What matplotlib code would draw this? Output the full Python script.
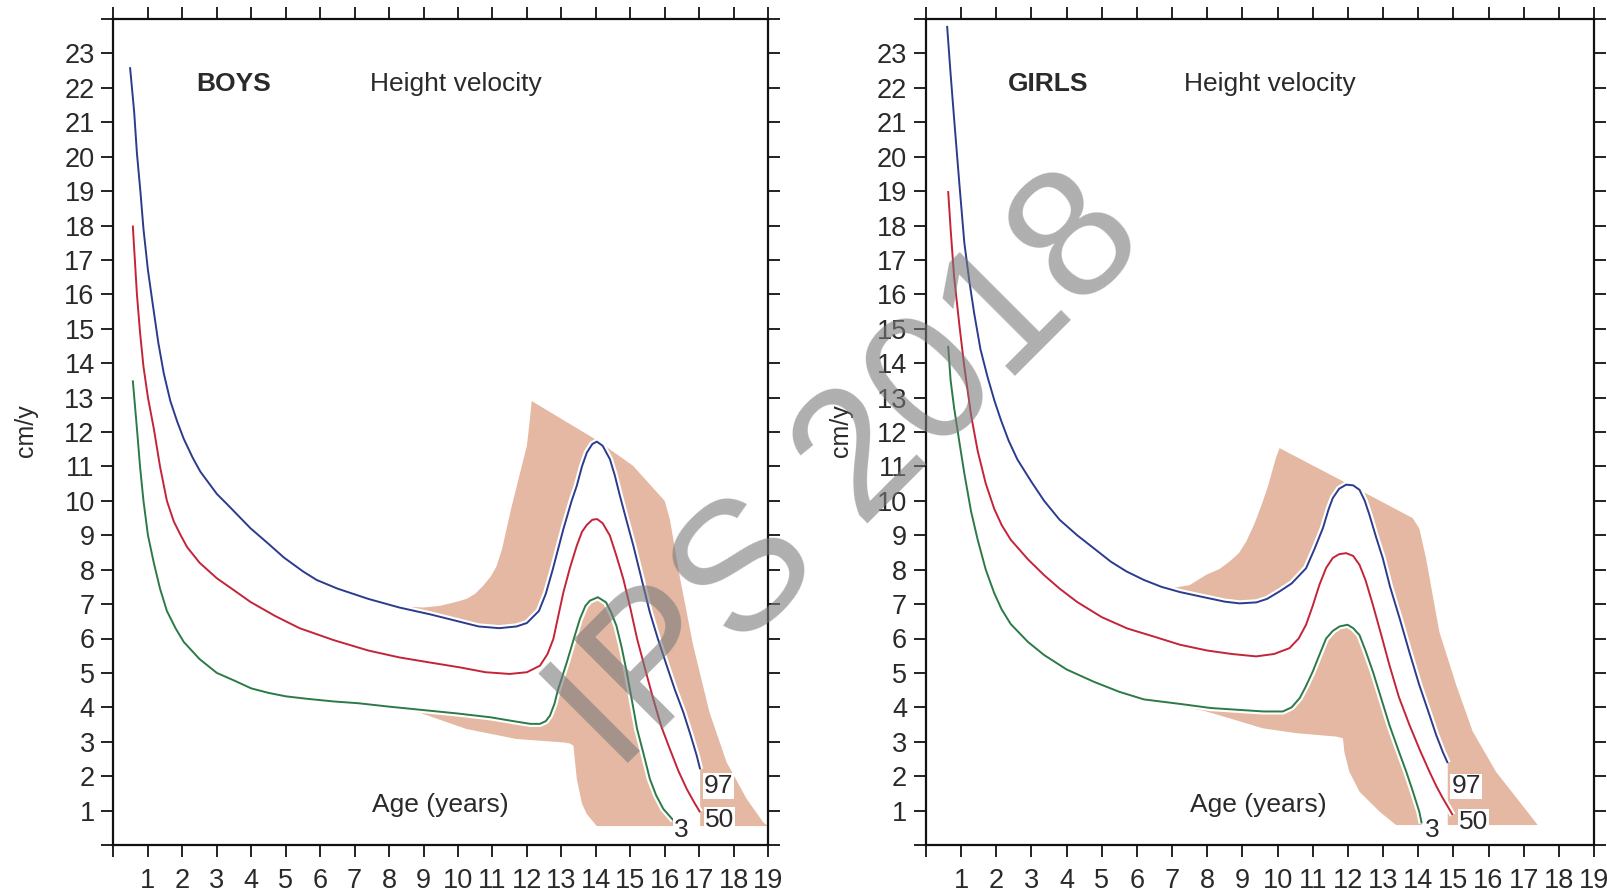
import numpy as np
import matplotlib
matplotlib.use('Agg')
import matplotlib.pyplot as plt
import matplotlib.patheffects as pe

plt.rcParams['font.family'] = ['Liberation Sans', 'DejaVu Sans']

# ---- boys: 97th / 50th / 3rd centile height velocity (cm/y) ----
boys_p97_x = [0.48, 0.6, 0.68, 0.78, 0.87, 1.0, 1.17, 1.3, 1.46, 1.65, 1.85, 2.04, 2.3, 2.52, 3.0, 3.3,
              3.98, 4.5, 4.95, 5.5, 5.9, 6.5, 7.4, 8.3, 9.2, 10.0, 10.6, 11.2, 11.7, 12.0, 12.35, 12.55,
              12.75, 13.06, 13.3, 13.45, 13.6, 13.74, 13.9, 14.03, 14.2, 14.41, 14.55, 14.7, 14.9, 15.09,
              15.3, 15.57, 15.8, 16.06, 16.3, 16.54, 16.75, 16.93, 17.03]
boys_p97_y = [22.6, 21.3, 20.1, 19.0, 17.9, 16.7, 15.5, 14.6, 13.7, 12.9, 12.3, 11.8, 11.25, 10.85, 10.2, 9.9,
              9.2, 8.75, 8.35, 7.95, 7.7, 7.45, 7.15, 6.9, 6.7, 6.5, 6.35, 6.3, 6.35, 6.45, 6.8, 7.3,
              8.0, 9.18, 10.0, 10.44, 11.0, 11.4, 11.65, 11.72, 11.6, 11.21, 10.75, 10.15, 9.4, 8.7,
              7.85, 6.76, 6.0, 5.21, 4.5, 3.86, 3.2, 2.6, 2.2]

boys_p50_x = [0.56, 0.62, 0.68, 0.77, 0.87, 1.0, 1.17, 1.35, 1.55, 1.75, 1.95, 2.14, 2.5, 3.0, 3.5, 3.98,
              4.7, 5.4, 6.4, 7.4, 8.3, 9.2, 10.06, 10.8, 11.5, 12.0, 12.38, 12.6, 12.77, 12.9, 13.06,
              13.25, 13.45, 13.6, 13.74, 13.9, 14.04, 14.2, 14.41, 14.6, 14.8, 15.0, 15.2, 15.45, 15.67,
              15.9, 16.15, 16.4, 16.64, 16.85, 17.03]
boys_p50_y = [18.0, 17.0, 16.0, 14.9, 13.9, 13.0, 12.1, 11.0, 10.0, 9.4, 9.0, 8.65, 8.2, 7.75, 7.4, 7.06,
              6.65, 6.3, 5.95, 5.65, 5.45, 5.3, 5.16, 5.02, 4.97, 5.02, 5.21, 5.55, 5.99, 6.6, 7.34,
              8.05, 8.7, 9.1, 9.3, 9.45, 9.47, 9.35, 8.99, 8.4, 7.73, 6.9, 5.99, 5.05, 4.24,
              3.45, 2.79, 2.15, 1.63, 1.25, 0.95]

boys_p3_x = [0.56, 0.62, 0.68, 0.77, 0.87, 1.0, 1.17, 1.35, 1.55, 1.8, 2.04, 2.5, 3.0, 3.5, 4.0, 4.5,
             5.0, 5.6, 6.4, 7.1, 8.0, 9.0, 10.0, 10.95, 11.6, 12.1, 12.38, 12.55, 12.67, 12.8, 12.9,
             13.16, 13.35, 13.54, 13.7, 13.83, 14.06, 14.3, 14.45, 14.6, 14.75, 14.9, 15.05, 15.2,
             15.4, 15.57, 15.75, 15.96, 16.25]
boys_p3_y = [13.5, 12.8, 12.1, 11.0, 10.0, 9.0, 8.2, 7.45, 6.8, 6.3, 5.9, 5.4, 5.0, 4.78, 4.55, 4.42,
             4.32, 4.25, 4.17, 4.12, 4.02, 3.92, 3.82, 3.71, 3.6, 3.52, 3.52, 3.6, 3.76, 4.1, 4.5,
             5.31, 5.95, 6.57, 6.95, 7.1, 7.2, 7.05, 6.75, 6.37, 5.75, 5.02, 4.2, 3.37,
             2.6, 1.92, 1.45, 1.05, 0.72]

# shaded band (early / late maturers)
boys_band_top_x = [8.6, 9.0, 9.48, 9.9, 10.25, 10.5, 10.73, 10.95, 11.12, 11.28, 11.41, 11.55, 11.7,
                   11.85, 12.0, 12.08, 12.14, 14.05, 15.08, 16.0, 16.15, 16.45, 16.83, 17.3, 17.8,
                   18.38, 18.86, 19.0]
boys_band_top_y = [6.92, 6.9, 6.95, 7.05, 7.15, 7.3, 7.53, 7.8, 8.1, 8.6, 9.18, 9.8, 10.4,
                   11.0, 11.6, 12.3, 12.9, 11.75, 11.02, 10.0, 9.47, 7.73, 5.79, 3.86, 2.4,
                   1.34, 0.66, 0.55]
boys_band_bot_x = [19.0, 14.03, 13.74, 13.6, 13.45, 13.35, 13.25, 13.06, 11.7, 10.25, 9.3, 8.6, 8.0]
boys_band_bot_y = [0.55, 0.55, 0.9, 1.2, 1.92, 2.89, 2.95, 2.98, 3.08, 3.37, 3.7, 3.95, 4.02]

# ---- girls ----
girls_p97_x = [0.6, 0.7, 0.8, 0.95, 1.09, 1.23, 1.37, 1.55, 1.75, 1.95, 2.13, 2.35, 2.6, 3.0, 3.36, 3.8,
               4.3, 4.8, 5.26, 5.7, 6.2, 6.7, 7.22, 7.9, 8.5, 8.92, 9.4, 9.7, 10.06, 10.4, 10.81, 11.05,
               11.29, 11.45, 11.57, 11.75, 11.95, 12.15, 12.33, 12.48, 12.61, 12.8, 12.99, 13.2, 13.47,
               13.75, 14.03, 14.28, 14.51, 14.7, 14.84]
girls_p97_y = [23.8, 22.4, 21.1, 19.2, 17.5, 16.4, 15.45, 14.4, 13.6, 12.9, 12.35, 11.75, 11.2, 10.55, 10.0, 9.45,
               9.0, 8.6, 8.23, 7.95, 7.7, 7.5, 7.35, 7.2, 7.07, 7.02, 7.05, 7.15, 7.37, 7.6, 8.04, 8.6,
               9.21, 9.75, 10.08, 10.35, 10.47, 10.45, 10.32, 10.0, 9.6, 8.95, 8.34, 7.5, 6.59,
               5.6, 4.65, 3.9, 3.2, 2.7, 2.38]

girls_p50_x = [0.63, 0.7, 0.8, 0.95, 1.09, 1.28, 1.47, 1.7, 1.94, 2.15, 2.41, 2.9, 3.36, 3.8, 4.3, 5.0,
               5.73, 6.5, 7.22, 8.0, 8.7, 9.39, 9.9, 10.34, 10.6, 10.81, 11.0, 11.19, 11.38, 11.57, 11.75,
               11.95, 12.15, 12.33, 12.5, 12.71, 12.95, 13.18, 13.45, 13.75, 14.05, 14.32, 14.52, 14.7,
               14.85, 14.98]
girls_p50_y = [19.0, 17.9, 16.5, 15.1, 13.9, 12.5, 11.45, 10.5, 9.77, 9.3, 8.87, 8.3, 7.84, 7.45, 7.06, 6.62,
               6.29, 6.05, 5.82, 5.65, 5.55, 5.48, 5.55, 5.72, 6.0, 6.4, 6.95, 7.56, 8.05, 8.34, 8.45,
               8.48, 8.4, 8.14, 7.7, 6.98, 6.1, 5.23, 4.3, 3.49, 2.75, 2.13, 1.7, 1.36,
               1.1, 0.87]

girls_p3_x = [0.63, 0.7, 0.8, 0.95, 1.09, 1.28, 1.47, 1.7, 1.94, 2.15, 2.41, 2.9, 3.36, 4.0, 4.78, 5.5,
              6.2, 7.22, 8.1, 9.0, 9.6, 10.15, 10.4, 10.63, 10.8, 11.0, 11.2, 11.38, 11.57, 11.76, 11.99,
              12.15, 12.33, 12.5, 12.71, 12.95, 13.18, 13.42, 13.66, 13.85, 14.03, 14.1]
girls_p3_y = [14.5, 13.5, 12.7, 11.7, 10.8, 9.7, 8.87, 8.0, 7.32, 6.85, 6.42, 5.9, 5.52, 5.1, 4.74, 4.45,
              4.23, 4.1, 3.98, 3.92, 3.88, 3.88, 4.0, 4.27, 4.6, 5.04, 5.55, 6.0, 6.22, 6.35, 6.4,
              6.3, 6.1, 5.65, 5.04, 4.25, 3.49, 2.8, 2.13, 1.55, 0.97, 0.63]

girls_band_top_x = [6.9, 7.5, 7.97, 8.35, 8.64, 8.9, 9.11, 9.35, 9.58, 9.75, 9.87, 9.97, 10.06, 11.95,
                    13.84, 14.03, 14.22, 14.6, 15.08, 15.55, 16.21, 16.88, 17.4]
girls_band_top_y = [7.45, 7.55, 7.85, 8.02, 8.24, 8.48, 8.82, 9.35, 9.98, 10.5, 10.95, 11.3, 11.53, 10.52,
                    9.5, 9.2, 8.34, 6.2, 4.65, 3.3, 2.13, 1.26, 0.58]
girls_band_bot_x = [17.4, 13.37, 12.9, 12.33, 12.04, 11.9, 11.86, 11.67, 10.53, 9.58, 8.64, 7.9, 7.3, 6.8]
girls_band_bot_y = [0.58, 0.58, 0.97, 1.55, 2.13, 2.7, 3.1, 3.15, 3.25, 3.39, 3.68, 3.9, 4.02, 4.12]

x_ticks = list(range(0, 20))
y_ticks = list(range(0, 25))

W, H = 1608, 891
fig = plt.figure(figsize=(W / 100, H / 100), dpi=100)

BAND = '#e4b8a2'
COLORS = {'97': '#2b3c8e', '50': '#c42438', '3': '#2b7a47'}
halo = [pe.Stroke(linewidth=4.5, foreground='white'), pe.Normal()]


def panel(rect, sex, p97, p50, p3, top, bot, lab_pos, hv_x, sex_x):
    ax = fig.add_axes(rect)
    ax.set_xlim(0, 19)
    ax.set_ylim(0, 24)

    # band, then blank out the part between the 3rd and 97th centiles (down to the band floor)
    floor = bot[1][0] - 0.1
    ax.fill(top[0] + bot[0], top[1] + bot[1], color=BAND, lw=0, zorder=1)
    clear_x = p97[0] + [p97[0][-1], p3[0][-1]] + p3[0][::-1]
    clear_y = p97[1] + [floor, floor] + p3[1][::-1]
    ax.fill(clear_x, clear_y, color='white', lw=0, zorder=2)

    for (xs, ys), key in zip([p97, p50, p3], ['97', '50', '3']):
        ax.plot(xs, ys, color=COLORS[key], lw=1.4, zorder=3, path_effects=halo,
                solid_capstyle='butt')
        lx, ly = lab_pos[key]
        ax.text(lx, ly, key, fontsize=19, color='#2a2a2a', ha='center', va='center', zorder=4,
                bbox=dict(facecolor='white', edgecolor='none', pad=0.5))

    ax.text(sex_x, 22.1, sex, fontsize=19, fontweight='bold', color='#2a2a2a', ha='center', va='center')
    ax.text(hv_x, 22.1, 'Height velocity', fontsize=19, color='#2a2a2a', ha='center', va='center')
    ax.text(lab_pos['age'], 1.16, 'Age (years)', fontsize=19, color='#2a2a2a', ha='center', va='center',
            zorder=4)

    ax.set_xticks(x_ticks)
    ax.set_yticks(y_ticks)
    ax.set_xticklabels([str(t) if 0 < t else '' for t in x_ticks])
    ax.set_yticklabels([str(t) if 0 < t < 24 else '' for t in y_ticks])
    ax.tick_params(which='both', direction='out', top=True, right=True, length=8.5, width=1.3,
                   labelsize=19.5, colors='#111111', labelcolor='#2a2a2a')
    ax.tick_params(axis='y', pad=5)
    ax.tick_params(axis='x', pad=8)
    for s in ax.spines.values():
        s.set_linewidth(1.6)
        s.set_color('#111111')
    return ax


panel([113.5 / W, 1 - 845 / H, 654.5 / W, 826 / H], 'BOYS',
      (boys_p97_x, boys_p97_y), (boys_p50_x, boys_p50_y), (boys_p3_x, boys_p3_y),
      (boys_band_top_x, boys_band_top_y), (boys_band_bot_x, boys_band_bot_y),
      {'97': (17.55, 1.72), '50': (17.6, 0.73), '3': (16.47, 0.44), 'age': 9.5},
      hv_x=9.94, sex_x=3.5)

panel([926 / W, 1 - 845 / H, 668 / W, 826 / H], 'GIRLS',
      (girls_p97_x, girls_p97_y), (girls_p50_x, girls_p50_y), (girls_p3_x, girls_p3_y),
      (girls_band_top_x, girls_band_top_y), (girls_band_bot_x, girls_band_bot_y),
      {'97': (15.36, 1.7), '50': (15.58, 0.66), '3': (14.4, 0.44), 'age': 9.46},
      hv_x=9.77, sex_x=3.47)

fig.text(26 / W, 1 - 431 / H, 'cm/y', rotation=90, fontsize=18, color='#2a2a2a', ha='center', va='center')
fig.text(841 / W, 1 - 431 / H, 'cm/y', rotation=90, fontsize=18, color='#2a2a2a', ha='center', va='center')

# watermark
fig.text(850 / W, 1 - 474 / H, 'IPS 2018', rotation=45, fontsize=132, color='#7a7a7a', alpha=0.6,
         ha='center', va='center', rotation_mode='anchor', zorder=10)

fig.savefig('out.png', dpi=100)
